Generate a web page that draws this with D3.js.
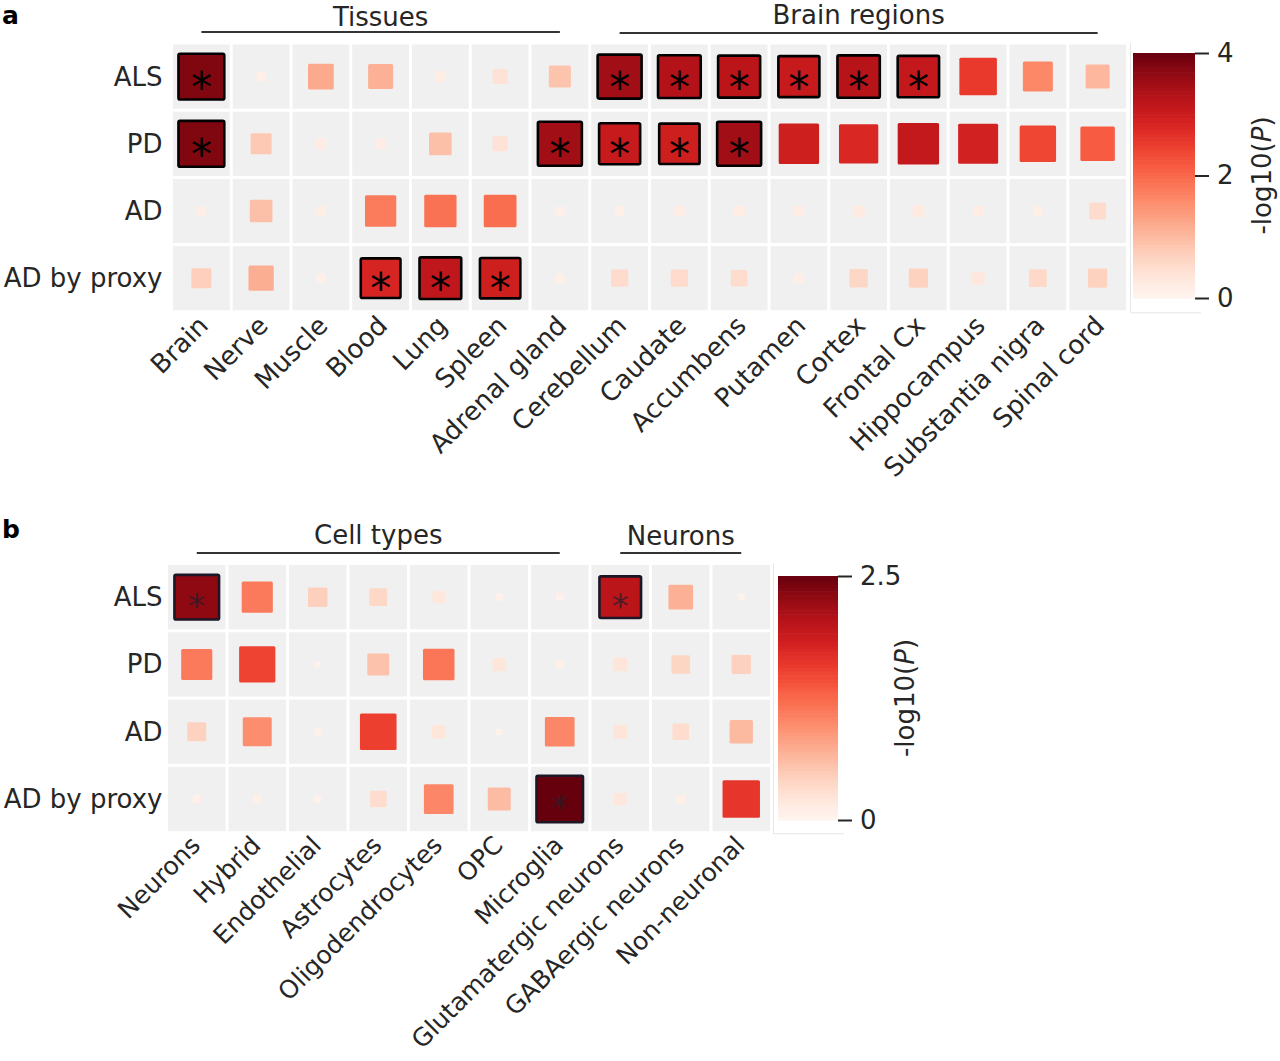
<!DOCTYPE html>
<html>
<head>
<meta charset="utf-8">
<script src="https://cdn.jsdelivr.net/npm/d3@7"></script>
<style>
  body { margin: 0; background: #ffffff; }
  text { font-family: "DejaVu Sans", sans-serif; fill: #262626; }
</style>
</head>
<body>
<svg id="chart" width="1280" height="1061"></svg>
<script>
// ---------------- DATA ----------------
const rowLabels = ["ALS", "PD", "AD", "AD by proxy"];

// Panel a
const tissueCols = ["Brain", "Nerve", "Muscle", "Blood", "Lung", "Spleen", "Adrenal gland"];
const brainRegionCols = ["Cerebellum", "Caudate", "Accumbens", "Putamen", "Cortex", "Frontal Cx",
                         "Hippocampus", "Substantia nigra", "Spinal cord"];
// -log10(P), one array per trait, columns = tissues then brain regions
const alsA   = [3.8, 0.15, 1.2, 1.13, 0.21, 0.41, 0.88, 3.5, 3.3, 3.2, 3.05, 3.25, 3.1, 2.55, 1.63, 1.04];
const pdA    = [3.8, 0.8, 0.21, 0.2, 0.93, 0.41, 3.5, 3.05, 2.95, 3.5, 2.95, 2.8, 3.1, 2.9, 2.4, 2.15];
const adA    = [0.17, 0.93, 0.17, 1.77, 1.89, 1.94, 0.15, 0.15, 0.2, 0.22, 0.18, 0.25, 0.25, 0.2, 0.17, 0.52];
const proxyA = [0.72, 1.16, 0.14, 2.85, 3.15, 2.95, 0.15, 0.54, 0.54, 0.5, 0.16, 0.61, 0.67, 0.3, 0.57, 0.67];
// significant cells (marked with *)
const sigAlsA   = ["Brain", "Cerebellum", "Caudate", "Accumbens", "Putamen", "Cortex", "Frontal Cx"];
const sigPdA    = ["Brain", "Adrenal gland", "Cerebellum", "Caudate", "Accumbens"];
const sigAdA    = [];
const sigProxyA = ["Blood", "Lung", "Spleen"];
const colorbarTicksA = [0, 2, 4];

// Panel b
const cellTypeCols = ["Neurons", "Hybrid", "Endothelial", "Astrocytes", "Oligodendrocytes", "OPC", "Microglia"];
const neuronCols = ["Glutamatergic neurons", "GABAergic neurons", "Non-neuronal"];
const alsB   = [2.3, 1.12, 0.44, 0.37, 0.19, 0.06, 0.07, 2.0, 0.7, 0.05];
const pdB    = [1.12, 1.52, 0.04, 0.56, 1.15, 0.21, 0.08, 0.22, 0.4, 0.43];
const adB    = [0.42, 0.97, 0.06, 1.55, 0.21, 0.05, 1.02, 0.22, 0.32, 0.63];
const proxyB = [0.08, 0.09, 0.06, 0.32, 1.02, 0.61, 2.5, 0.19, 0.09, 1.62];
const sigAlsB   = ["Neurons", "Glutamatergic neurons"];
const sigPdB    = [];
const sigAdB    = [];
const sigProxyB = ["Microglia"];
const colorbarTicksB = [0, 2.5];

// ---------------- DRAWING ----------------
const svg = d3.select("#chart");
const FS = 26;

function drawPanel(cfg) {
  const g = svg.append("g");
  const cols = cfg.groups.flatMap(d => d.cols);
  const x = d3.scaleBand().domain(cols).range([cfg.left, cfg.left + cfg.cw * cols.length]);
  const y = d3.scaleBand().domain(rowLabels).range([cfg.top, cfg.top + cfg.ch * rowLabels.length]);
  const color = d3.scaleSequential(d3.interpolateReds).domain([0, cfg.vmax]).clamp(true);
  const size = d3.scaleSqrt().domain([0, cfg.vmax]).range([0, cfg.maxSide]).clamp(true);
  const bottom = cfg.top + cfg.ch * rowLabels.length;

  const cells = [];
  rowLabels.forEach((r, i) => {
    cols.forEach((c, j) => {
      cells.push({ row: r, col: c, v: cfg.values[i][j], sig: cfg.sig[i].includes(c) });
    });
  });

  // background cells
  g.selectAll("rect.bg").data(cells).join("rect")
    .attr("class", "bg")
    .attr("x", d => x(d.col) + 1.5)
    .attr("y", d => y(d.row) + 1.5)
    .attr("width", x.bandwidth() - 3)
    .attr("height", y.bandwidth() - 3)
    .attr("fill", "#f0f0f0");

  // value squares
  g.selectAll("rect.val").data(cells).join("rect")
    .attr("class", "val")
    .attr("x", d => x(d.col) + x.bandwidth() / 2 - size(d.v) / 2)
    .attr("y", d => y(d.row) + y.bandwidth() / 2 - size(d.v) / 2)
    .attr("width", d => size(d.v))
    .attr("height", d => size(d.v))
    .attr("rx", 1.5)
    .attr("fill", d => color(d.v))
    .attr("stroke", d => d.sig ? cfg.edge : "none")
    .attr("stroke-width", d => d.sig ? 2.6 : 0);

  // stars
  g.selectAll("text.star").data(cells.filter(d => d.sig)).join("text")
    .attr("class", "star")
    .attr("x", d => x(d.col) + x.bandwidth() / 2)
    .attr("y", d => y(d.row) + y.bandwidth() / 2 + cfg.starSize * 0.6)
    .attr("text-anchor", "middle")
    .style("font-size", cfg.starSize + "px")
    .style("fill", cfg.starFill)
    .text("*");

  // row labels
  g.selectAll("text.row").data(rowLabels).join("text")
    .attr("class", "row")
    .attr("x", cfg.left - cfg.labelGap)
    .attr("y", d => y(d) + y.bandwidth() / 2)
    .attr("text-anchor", "end")
    .attr("dominant-baseline", "central")
    .style("font-size", FS + "px")
    .text(d => d);

  // column labels (rotated)
  g.selectAll("text.col").data(cols).join("text")
    .attr("class", "col")
    .attr("transform", d => `translate(${x(d) + x.bandwidth() / 2 + cfg.tickDx},${bottom + cfg.tickDy}) rotate(-45)`)
    .attr("text-anchor", "end")
    .attr("dominant-baseline", "central")
    .style("font-size", cfg.tickFS + "px")
    .text(d => d);

  // group headers
  cfg.groups.forEach(grp => {
    const x0 = x(grp.cols[0]) + x.bandwidth() / 2;
    const x1 = x(grp.cols[grp.cols.length - 1]) + x.bandwidth() / 2;
    g.append("line")
      .attr("x1", x0).attr("x2", x1)
      .attr("y1", grp.lineY).attr("y2", grp.lineY)
      .attr("stroke", "#333").attr("stroke-width", 2);
    g.append("text")
      .attr("x", (x0 + x1) / 2)
      .attr("y", grp.textY)
      .attr("text-anchor", "middle")
      .style("font-size", FS + "px")
      .text(grp.name);
  });

  // panel letter
  g.append("text")
    .attr("x", 2).attr("y", cfg.letterY)
    .style("font-size", "25px").style("font-weight", "bold").style("fill", "#000")
    .text(cfg.letter);

  // colorbar frame (faint)
  const cb = cfg.cbar;
  g.append("path")
    .attr("d", `M${cb.frameX},${cfg.top} V${bottom + 1} H${cb.x + cb.w + 6}`)
    .attr("fill", "none").attr("stroke", "#e6e6e6").attr("stroke-width", 1);

  // colorbar
  const cy = d3.scaleLinear().domain([0, cfg.vmax]).range([cb.y1, cb.y0]);
  const nSteps = 64;
  const steps = d3.range(nSteps).map(i => ({ a: cfg.vmax * i / nSteps, b: cfg.vmax * (i + 1) / nSteps }));
  g.selectAll("rect.cb").data(steps).join("rect")
    .attr("class", "cb")
    .attr("x", cb.x)
    .attr("y", d => cy(d.b))
    .attr("width", cb.w)
    .attr("height", d => cy(d.a) - cy(d.b) + 0.6)
    .attr("fill", d => color((d.a + d.b) / 2));

  const axis = d3.axisRight(cy).tickValues(cfg.ticks).tickSize(14).tickPadding(8)
    .tickFormat(d3.format("~g"));
  const ax = g.append("g").attr("transform", `translate(${cb.x + cb.w},0)`).call(axis);
  ax.select(".domain").remove();
  ax.selectAll(".tick line").attr("stroke", "#262626").attr("stroke-width", 2);
  ax.selectAll(".tick text").style("font-size", FS + "px").style("font-family", "DejaVu Sans, sans-serif").attr("fill", "#262626");

  const t = g.append("text")
    .attr("transform", `translate(${cb.titleX},${(cb.y0 + cb.y1) / 2}) rotate(-90)`)
    .attr("text-anchor", "middle")
    .attr("dominant-baseline", "central")
    .style("font-size", FS + "px");
  t.append("tspan").text("-log10(");
  t.append("tspan").style("font-style", "italic").text("P");
  t.append("tspan").text(")");
}

drawPanel({
  letter: "a", letterY: 24,
  groups: [
    { name: "Tissues", cols: tissueCols, lineY: 32, textY: 26 },
    { name: "Brain regions", cols: brainRegionCols, lineY: 33, textY: 24 }
  ],
  values: [alsA, pdA, adA, proxyA],
  sig: [sigAlsA, sigPdA, sigAdA, sigProxyA],
  vmax: 4, maxSide: 47,
  left: 171.5, top: 43, cw: 59.75, ch: 67.2,
  labelGap: 9, tickDx: 2, tickDy: 9, tickFS: 26,
  starSize: 42, starFill: "#000", edge: "#000",
  ticks: colorbarTicksA,
  cbar: { x: 1133, w: 62, y0: 53, y1: 298, titleX: 1262, frameX: 1130.5 }
});

drawPanel({
  letter: "b", letterY: 538,
  groups: [
    { name: "Cell types", cols: cellTypeCols, lineY: 553, textY: 544 },
    { name: "Neurons", cols: neuronCols, lineY: 553, textY: 545 }
  ],
  values: [alsB, pdB, adB, proxyB],
  sig: [sigAlsB, sigPdB, sigAdB, sigProxyB],
  vmax: 2.5, maxSide: 46.5,
  left: 166.5, top: 563.5, cw: 60.5, ch: 67.3,
  labelGap: 4, tickDx: -1, tickDy: 8, tickFS: 25,
  starSize: 34, starFill: "rgba(40,30,40,0.75)", edge: "#1c1626",
  ticks: colorbarTicksB,
  cbar: { x: 778, w: 60, y0: 576, y1: 820, titleX: 905, frameX: 773.5 }
});
</script>
</body>
</html>
